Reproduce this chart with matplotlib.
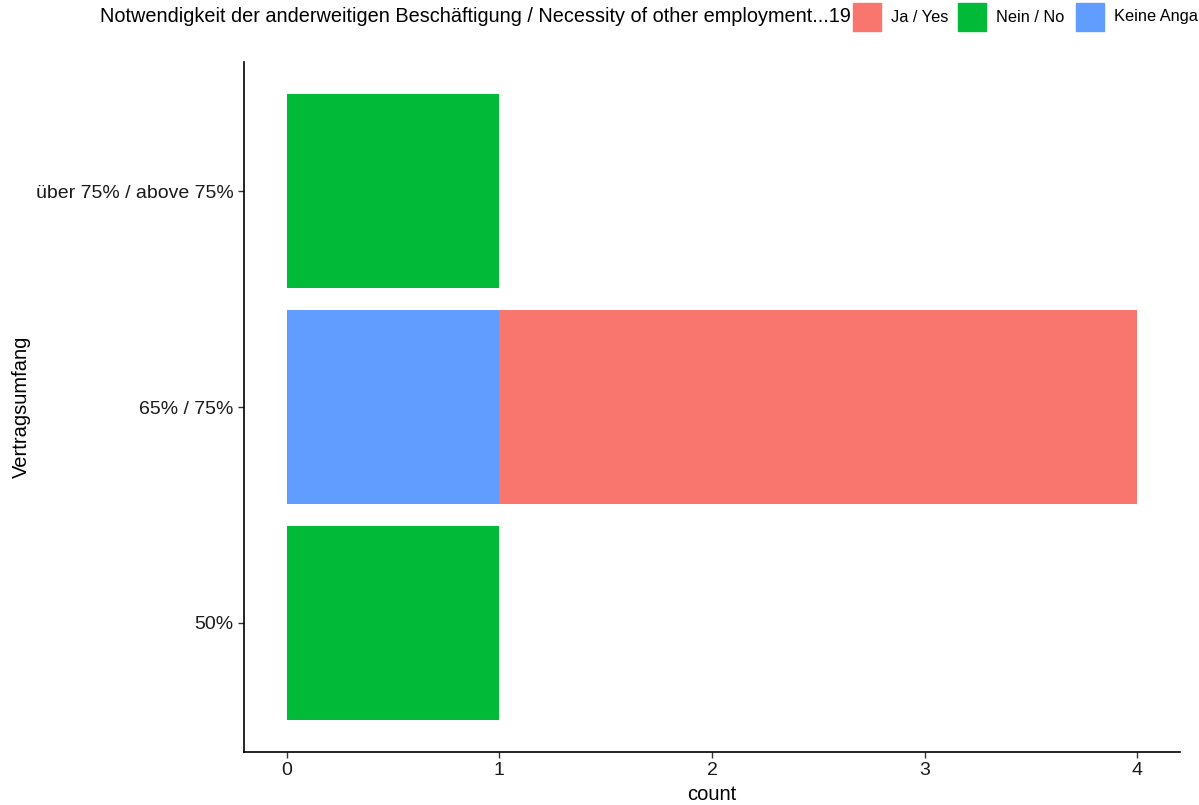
import matplotlib
matplotlib.use("Agg")
import matplotlib.pyplot as plt
from matplotlib.patches import Rectangle

plt.rcParams['font.family'] = ['Liberation Sans', 'DejaVu Sans']

categories = ['50%', '65% / 75%', 'über 75% / above 75%']
groups = ['Ja / Yes', 'Nein / No', 'Keine Angabe / No answer']
colors = ['#F8766D', '#00BA38', '#619CFF']
# counts per group for each category
counts = {
    'Ja / Yes': [0, 3, 0],
    'Nein / No': [1, 0, 1],
    'Keine Angabe / No answer': [0, 1, 0],
}
# stacking order from left to right (ggplot stacks last level first)
stack_order = ['Keine Angabe / No answer', 'Nein / No', 'Ja / Yes']
legend_title = 'Notwendigkeit der anderweitigen Beschäftigung / Necessity of other employment...19'

fig = plt.figure(figsize=(11.99, 8.05), dpi=100)
ax = fig.add_axes([244/1199, 1-752/805, (1180-244)/1199, (752-62)/805])

ypos = list(range(len(categories)))
left = [0]*len(categories)
for g in stack_order:
    c = colors[groups.index(g)]
    ax.barh(ypos, counts[g], left=left, height=0.9, color=c, linewidth=0)
    left = [a+b for a, b in zip(left, counts[g])]

ax.set_xlim(-0.2, 4.2)
ax.set_ylim(-0.6, 2.6)
ax.set_yticks(ypos)
ax.set_yticklabels(categories)
ax.set_xticks([0, 1, 2, 3, 4])
ax.tick_params(labelsize=14, length=4, width=1, color='#333333', labelcolor='#1a1a1a')
for s in ['top', 'right']:
    ax.spines[s].set_visible(False)
for s in ['left', 'bottom']:
    ax.spines[s].set_linewidth(1.2)
ax.set_xlabel('count', fontsize=14.5, labelpad=4)
ax.set_ylabel('Vertragsumfang', fontsize=14.5)
ax.yaxis.set_label_coords((31-244)/936, 0.5)

# legend on top, clipped by the figure edge like the original
fig.text(100/1199, 1-17/805, legend_title, fontsize=14.3, va='center', ha='left')
key_x = [853, 958, 1076]
for g, c, kx in zip(groups, colors, key_x):
    fig.patches.append(Rectangle((kx/1199, 1-31/805), 28/1199, 28/805,
                                 transform=fig.transFigure, color=c, figure=fig))
    fig.text((kx+38)/1199, 1-17/805, g, fontsize=11.8, va='center', ha='left')

fig.savefig('out.png', dpi=100)
